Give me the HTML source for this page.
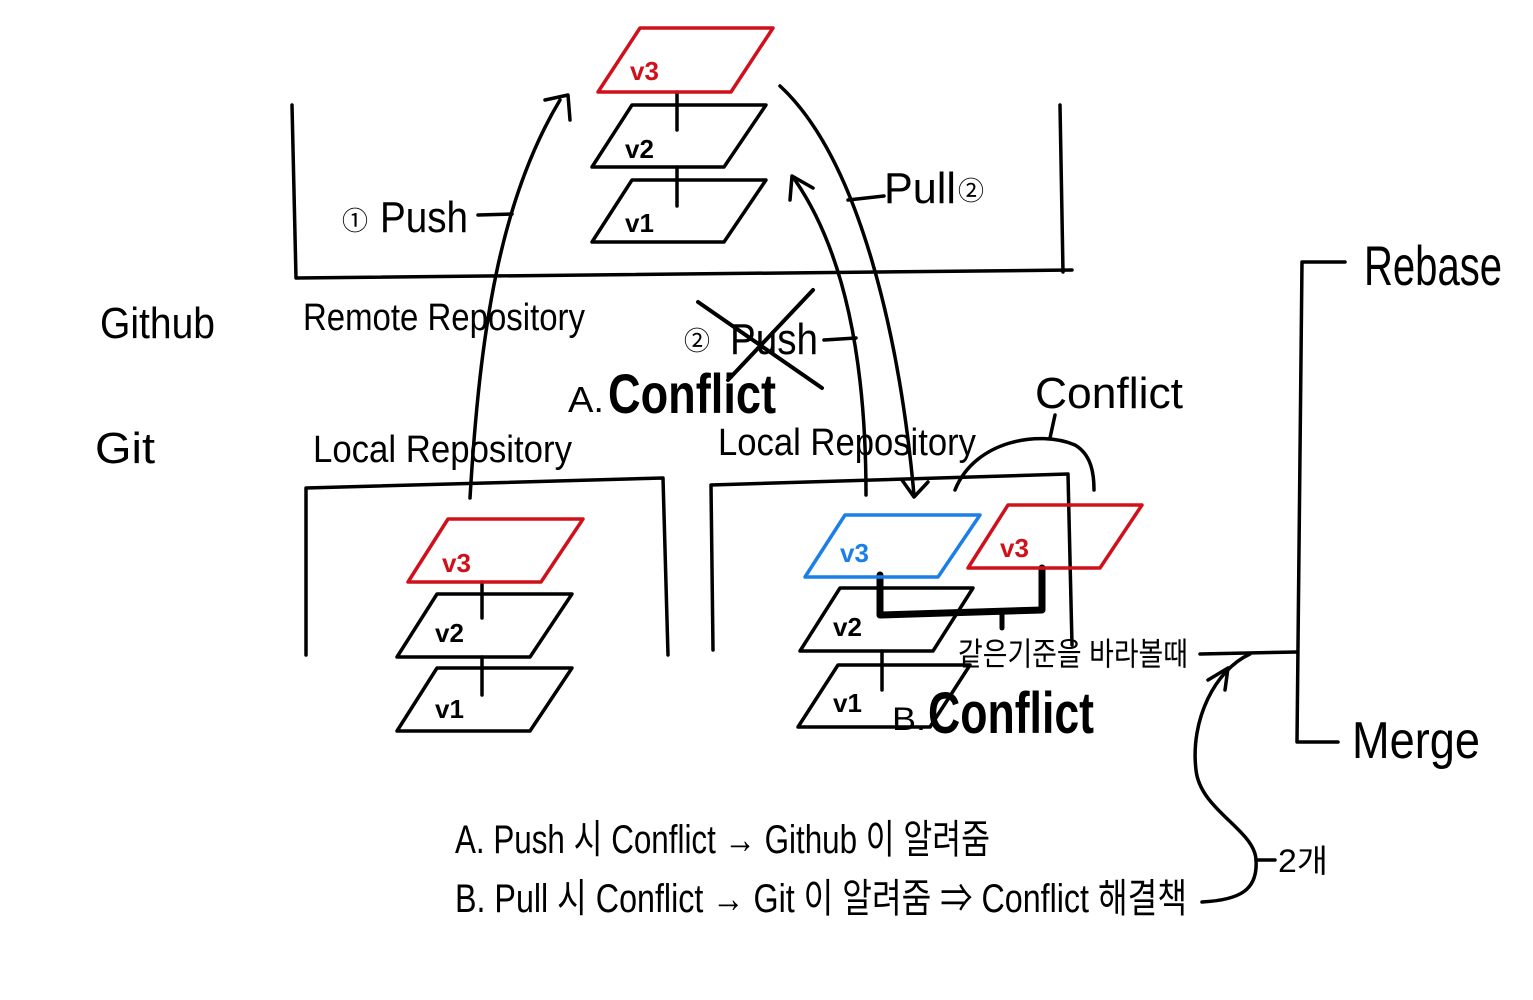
<!DOCTYPE html>
<html><head><meta charset="utf-8"><style>
html,body{margin:0;padding:0;background:#fff;width:1533px;height:1000px;overflow:hidden}
svg{display:block}
text{font-family:"Liberation Sans","Noto Sans CJK KR",sans-serif;fill:#000}
</style></head><body>
<svg width="1533" height="1000" viewBox="0 0 1533 1000" xmlns="http://www.w3.org/2000/svg">
<g fill="none" stroke="#000" stroke-width="3.5" stroke-linecap="round" stroke-linejoin="round">
<path d="M292,105 L296,278 L1072,270"/>
<path d="M1060,105 L1063,272"/>
<path d="M306,655 L306,488 L663,478 L668,655"/>
<path d="M713,650 L711,485 L1068,474 L1072,645"/>
<path d="M592,167 L632,105 L766,105 L724,167 Z"/>
<path d="M592,242 L632,180 L766,180 L724,242 Z"/>
<path d="M677,92 L677,130 M677,167 L677,206"/>
<path d="M397,657 L437,594 L572,594 L530,657 Z"/>
<path d="M397,731 L437,668 L572,668 L530,731 Z"/>
<path d="M482,582 L482,618 M482,657 L482,695"/>
<path d="M800,651 L840,588 L973,588 L933,651 Z"/>
<path d="M798,727 L838,665 L970,665 L930,727 Z"/>
<path d="M882,651 L882,690"/>
<path d="M880,575 L880,615 L1042,610 L1042,568" stroke-width="7"/>
<path d="M1002,612 L1002,628" stroke-width="5"/>
<path d="M470,498 C480,330 500,200 560,100"/>
<path d="M545,100 L568,95 L570,120"/>
<path d="M478,215 L512,214"/>
<path d="M780,86 C860,160 900,340 914,495"/>
<path d="M902,480 L914,497 L928,482"/>
<path d="M848,200 L884,196"/>
<path d="M866,495 C866,380 850,260 795,180"/>
<path d="M790,200 L792,176 L813,188"/>
<path d="M824,340 L856,338"/>
<path d="M698,302 L822,388 M813,290 L728,380" stroke-width="4"/>
<path d="M955,490 C975,440 1040,430 1075,445 C1092,455 1094,475 1094,490"/>
<path d="M1050,438 L1055,415"/>
<path d="M1345,262 L1302,262 L1297,742 L1338,742"/>
<path d="M1200,654 L1297,652"/>
<path d="M1250,654 C1215,670 1190,720 1196,770 C1200,810 1255,830 1256,860 C1258,890 1240,900 1202,902"/>
<path d="M1208,680 L1228,668 L1225,690"/>
<path d="M1256,860 L1275,860"/>
</g>
<g fill="none" stroke-width="3.5" stroke-linejoin="round">
<path d="M598,92 L640,28 L773,28 L731,92 Z" stroke="#d0101a"/>
<path d="M408,582 L448,519 L583,519 L541,582 Z" stroke="#d0101a"/>
<path d="M968,568 L1008,505 L1142,505 L1100,568 Z" stroke="#d0101a"/>
<path d="M805,577 L845,515 L980,515 L938,577 Z" stroke="#1a7fe8"/>
</g>
<g font-size="26" font-weight="bold">
<text x="630" y="80" style="fill:#d0101a">v3</text>
<text x="442" y="572" style="fill:#d0101a">v3</text>
<text x="1000" y="557" style="fill:#d0101a">v3</text>
<text x="840" y="562" style="fill:#1a7fe8">v3</text>
<text x="625" y="158">v2</text>
<text x="625" y="232">v1</text>
<text x="435" y="642">v2</text>
<text x="435" y="718">v1</text>
<text x="833" y="636">v2</text>
<text x="833" y="712">v1</text>
</g>
<g font-size="44" lengthAdjust="spacingAndGlyphs">
<text x="100" y="338" textLength="115" lengthAdjust="spacingAndGlyphs">Github</text>
<text x="95" y="463" textLength="60" lengthAdjust="spacingAndGlyphs">Git</text>
<text x="380" y="232" textLength="88" lengthAdjust="spacingAndGlyphs">Push</text>
<text x="884" y="203" textLength="72" lengthAdjust="spacingAndGlyphs">Pull</text>
<text x="730" y="354" textLength="88" lengthAdjust="spacingAndGlyphs">Push</text>
<text x="1035" y="408" textLength="148" lengthAdjust="spacingAndGlyphs">Conflict</text>
<text x="1364" y="285" font-size="56" textLength="138" lengthAdjust="spacingAndGlyphs">Rebase</text>
<text x="1352" y="758" font-size="52" textLength="128" lengthAdjust="spacingAndGlyphs">Merge</text>
</g>
<g font-size="38">
<text x="303" y="330" textLength="282" lengthAdjust="spacingAndGlyphs">Remote Repository</text>
<text x="313" y="462" textLength="259" lengthAdjust="spacingAndGlyphs">Local Repository</text>
<text x="718" y="455" textLength="258" lengthAdjust="spacingAndGlyphs">Local Repository</text>
</g>
<text x="342" y="230" font-size="26">①</text>
<text x="958" y="200" font-size="26">②</text>
<text x="684" y="350" font-size="26">②</text>
<text x="568" y="412" font-size="36" textLength="36" lengthAdjust="spacingAndGlyphs">A.</text>
<text x="608" y="413" font-size="56" font-weight="bold" textLength="168" lengthAdjust="spacingAndGlyphs">Conflict</text>
<text x="892" y="730" font-size="32" textLength="34" lengthAdjust="spacingAndGlyphs">B.</text>
<text x="928" y="733" font-size="58" font-weight="bold" textLength="166" lengthAdjust="spacingAndGlyphs">Conflict</text>
<text x="958" y="665" font-size="32" textLength="230" lengthAdjust="spacingAndGlyphs">같은기준을 바라볼때</text>
<text x="1278" y="872" font-size="32" textLength="50" lengthAdjust="spacingAndGlyphs">2개</text>
<text x="455" y="853" font-size="40" textLength="535" lengthAdjust="spacingAndGlyphs">A. Push 시 Conflict → Github 이 알려줌</text>
<text x="455" y="912" font-size="40" textLength="732" lengthAdjust="spacingAndGlyphs">B. Pull 시 Conflict → Git 이 알려줌 ⇒ Conflict 해결책</text>
</svg>
</body></html>
